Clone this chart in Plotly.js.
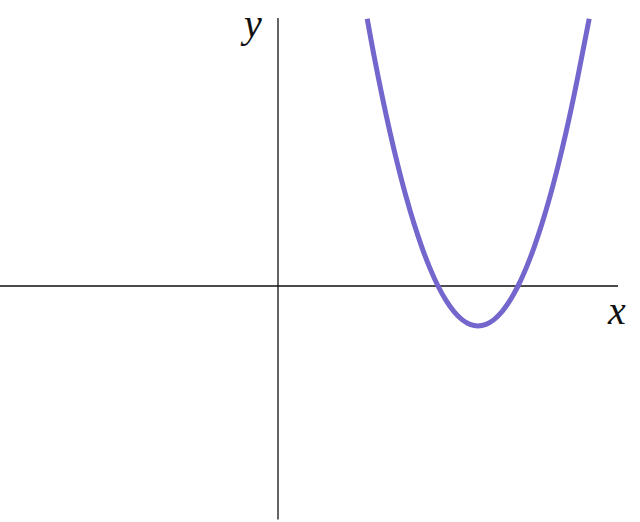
<!DOCTYPE html>
<html>
<head>
<meta charset="utf-8">
<script src="https://cdn.plot.ly/plotly-3.0.1.min.js"></script>
<style>html,body{margin:0;padding:0;background:#fff;}#chart{width:640px;height:522px;}</style>
</head>
<body>
<div id="chart"></div>
<script>
// Values (x in units, y in units)
const curveX = [1.115, 1.2, 1.3, 1.4, 1.5, 1.6, 1.7, 1.8, 1.9, 2.0, 2.1, 2.2, 2.3, 2.4, 2.5, 2.6, 2.7, 2.8, 2.9, 3.0, 3.1, 3.2, 3.3, 3.4, 3.5, 3.6, 3.7, 3.8, 3.89];
const curveY = [1.67, 1.44, 1.19, 0.96, 0.75, 0.56, 0.39, 0.24, 0.11, 0.0, -0.09, -0.16, -0.21, -0.24, -0.25, -0.24, -0.21, -0.16, -0.09, 0.0, 0.11, 0.24, 0.39, 0.56, 0.75, 0.96, 1.19, 1.44, 1.67];
const xAxisExtent = [-3.475, 4.25];
const yAxisExtent = [-1.46, 1.675];
const axisLabels = ["x", "y"];

const trace = {
  x: curveX, y: curveY, mode: "lines", type: "scatter",
  line: {color: "rgb(115,102,204)", width: 5, shape: "spline", smoothing: 1},
  hoverinfo: "skip"
};

const layout = {
  width: 640, height: 522,
  margin: {l: 0, r: 0, t: 0, b: 0},
  paper_bgcolor: "#fff", plot_bgcolor: "#fff",
  showlegend: false,
  xaxis: {range: [-3.475, 4.525], visible: false, fixedrange: true},
  yaxis: {range: [-1.475, 1.7875], visible: false, fixedrange: true},
  shapes: [
    {type: "line", xref: "x", yref: "y", x0: xAxisExtent[0], x1: xAxisExtent[1], y0: 0, y1: 0, line: {color: "#111", width: 1.3}, layer: "below"},
    {type: "line", xref: "x", yref: "y", x0: 0, x1: 0, y0: yAxisExtent[0], y1: yAxisExtent[1], line: {color: "#111", width: 1.3}, layer: "below"}
  ],
  annotations: [
    {xref: "x", yref: "y", x: 4.237, y: -0.156, text: axisLabels[0], showarrow: false,
     font: {family: "Liberation Serif", size: 40, color: "#111"}, xanchor: "center", yanchor: "middle"},
    {xref: "x", yref: "y", x: -0.335, y: 1.64, text: axisLabels[1], showarrow: false,
     font: {family: "Liberation Serif", size: 40, color: "#111"}, xanchor: "center", yanchor: "middle"}
  ]
};
layout.annotations.forEach(a => a.text = "<i>" + a.text + "</i>");

Plotly.newPlot("chart", [trace], layout, {staticPlot: true, displayModeBar: false});
</script>
</body>
</html>
